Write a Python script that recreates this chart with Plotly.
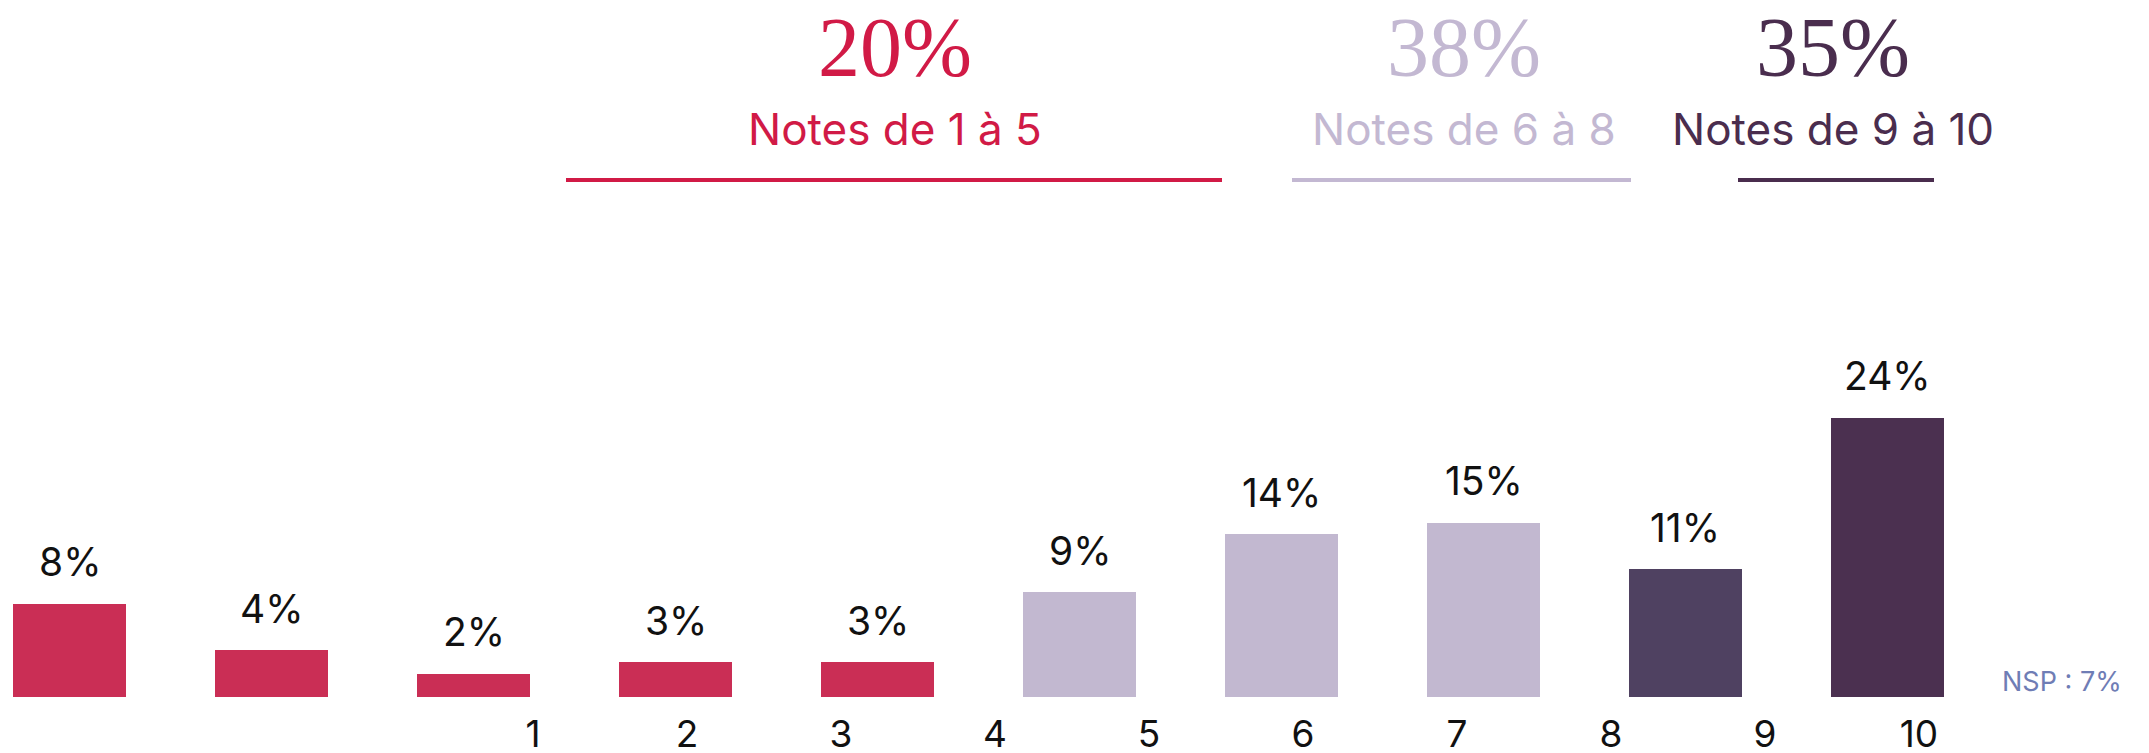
import plotly.graph_objects as go

# ---- data ----
bar_positions = [1, 2, 3, 4, 5, 6, 7, 8, 9, 10]
bar_values = [8, 4, 2, 3, 3, 9, 14, 15, 11, 24]
bar_labels = ["8%", "4%", "2%", "3%", "3%", "9%", "14%", "15%", "11%", "24%"]
bar_colors = ["#CA2E55", "#CA2E55", "#CA2E55", "#CA2E55", "#CA2E55",
              "#C2B8D0", "#C2B8D0", "#C2B8D0", "#4F4161", "#4B3050"]

tick_values = [1, 2, 3, 4, 5, 6, 7, 8, 9, 10]
tick_labels = ["1", "2", "3", "4", "5", "6", "7", "8", "9", "10"]

group_totals = ["20%", "38%", "35%"]
group_names = ["Notes de 1 à 5", "Notes de 6 à 8", "Notes de 9 à 10"]
group_colors = ["#D11A46", "#C3B8D2", "#4A2D4E"]
nsp_text = "NSP : 7%"

# the page body has an 8px margin, so the figure is drawn 8px smaller
OFF = 8
W, H = 2149 - OFF, 753 - OFF
SANS = "Inter, 'Noto Sans', Arial, sans-serif"
SERIF = "'Liberation Serif', 'DejaVu Serif', serif"

fig = go.Figure()

fig.add_trace(go.Bar(
    x=bar_positions, y=bar_values, width=0.557,
    marker=dict(color=bar_colors, line=dict(width=0)),
    hoverinfo="skip", showlegend=False,
))

# invisible trace to carry the tick-label axis
fig.add_trace(go.Scatter(
    x=tick_values, y=[0] * len(tick_values), xaxis="x2", mode="markers",
    marker=dict(opacity=0), hoverinfo="skip", showlegend=False,
))

annotations = []
for xv, yv, lab in zip(bar_positions, bar_values, bar_labels):
    annotations.append(dict(
        x=xv, y=yv, xref="x", yref="y", text=lab, showarrow=False,
        yanchor="middle", yshift=42, font=dict(family=SANS, size=39, color="#111111"),
    ))

def px_x(page_x):
    return (page_x - OFF) / W

def px_y(page_y):
    return (697 - page_y) / 689

head_x = [895, 1464, 1833]
line_spans = [(566, 1222), (1292, 1631), (1738, 1934)]
for cx, tot, name, col, (l0, l1) in zip(head_x, group_totals, group_names, group_colors, line_spans):
    annotations.append(dict(
        x=px_x(cx), y=px_y(48), xref="paper", yref="paper", text=tot, showarrow=False,
        xanchor="center", yanchor="middle", font=dict(family=SERIF, size=84, color=col),
    ))
    annotations.append(dict(
        x=px_x(cx), y=px_y(129), xref="paper", yref="paper", text=name, showarrow=False,
        xanchor="center", yanchor="middle", font=dict(family=SANS, size=44, color=col),
    ))
    fig.add_shape(type="line", xref="paper", yref="paper",
                  x0=px_x(l0), x1=px_x(l1), y0=px_y(180), y1=px_y(180),
                  line=dict(color=col, width=4))

annotations.append(dict(
    x=px_x(2062), y=px_y(681), xref="paper", yref="paper", text=nsp_text, showarrow=False,
    xanchor="center", yanchor="middle", font=dict(family=SANS, size=27, color="#6F7DB5"),
))

fig.update_layout(
    width=W, height=H,
    margin=dict(l=0, r=0, t=0, b=56, pad=0),
    paper_bgcolor="white", plot_bgcolor="white",
    annotations=annotations,
    xaxis=dict(range=[0.6955, 11.2946], visible=False, fixedrange=True, automargin=False),
    xaxis2=dict(range=[-2.409, 11.494], overlaying="x", anchor="y", side="bottom",
                tickmode="array", tickvals=tick_values, ticktext=tick_labels,
                showgrid=False, zeroline=False, showline=False, ticks="",
                ticklabelstandoff=12, automargin=False,
                tickfont=dict(family=SANS, size=37, color="#111111")),
    yaxis=dict(range=[0, 59.24], visible=False, showgrid=False, zeroline=False,
               automargin=False),
    bargap=0,
)

fig.write_html("out.html")
